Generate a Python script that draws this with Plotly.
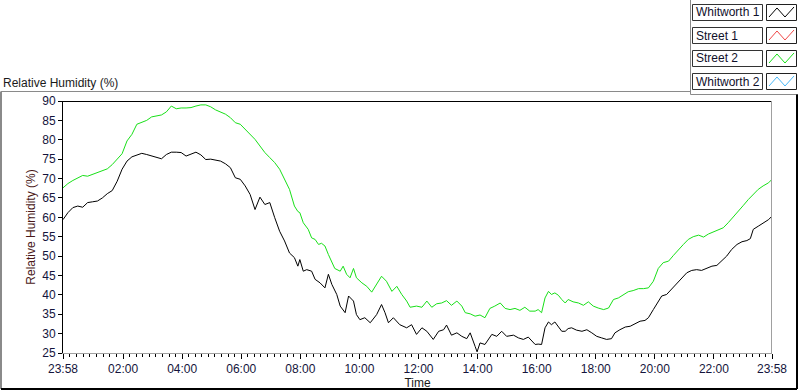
import pandas as pd
import plotly.graph_objects as go

# ---------------- data (minutes after 23:58, relative humidity %) ----------------
whitworth1_min = [0, 10, 20, 30, 40, 50, 60, 70, 80, 90, 100, 110, 120, 130, 140, 150, 160, 170, 180, 190,
                  200, 210, 220, 230, 240, 250, 260, 270, 280, 290, 300, 310, 320, 330, 340, 350, 360, 370,
                  380, 390, 400, 410, 420, 430, 440, 450, 460, 470, 477,
                  481, 488, 495, 505, 512, 522, 532, 539, 546, 556, 563, 573, 580, 590, 596, 603, 613, 624,
                  637, 647, 654, 661, 671, 684, 698, 708, 718, 729, 739, 752, 763, 773, 779, 789, 800, 810,
                  820, 827, 837, 841, 847, 857, 871, 881, 891, 901, 915, 925, 935, 945,
                  959, 965, 972, 979, 986, 992, 999, 1006, 1013, 1020, 1026, 1033, 1043, 1054, 1064, 1074,
                  1084, 1094, 1104, 1114, 1121, 1131, 1142, 1152, 1162, 1172, 1182, 1189, 1199, 1209, 1216,
                  1226, 1236, 1246, 1257, 1267, 1277, 1287, 1297, 1308, 1318, 1328, 1338, 1348, 1358, 1369,
                  1379, 1389, 1396, 1402, 1412, 1422, 1433, 1440]
whitworth1_rh = [59.4, 61.2, 62.5, 62.9, 62.6, 63.8, 64.0, 64.2, 65.0, 66.1, 66.9, 69.3, 72.4, 74.5, 75.6,
                 76.1, 76.5, 76.2, 75.8, 75.4, 75.1, 76.2, 76.8, 76.8, 76.7, 75.8, 76.4, 76.8, 76.1, 74.9,
                 75.0, 74.7, 74.5, 73.8, 72.8, 70.2, 69.8, 68.1, 65.9, 62.0, 65.2, 63.3, 63.8, 59.9, 56.4,
                 53.9, 50.8, 49.6, 47.4,
                 49.1, 46.1, 46.5, 46.1, 44.0, 43.1, 41.8, 45.3, 42.7, 40.1, 37.1, 35.4, 39.7, 38.4, 34.9,
                 33.6, 34.1, 32.8, 34.9, 37.5, 35.4, 32.8, 34.1, 32.3, 31.5, 32.3, 29.8, 31.5, 30.6, 28.5,
                 30.6, 31.0, 32.2, 29.6, 30.2, 29.3, 28.7, 30.2, 26.7, 25.3, 27.6, 27.2, 29.8, 29.3, 30.6,
                 29.3, 29.6, 28.9, 28.5, 29.1,
                 27.2, 27.3, 27.2, 31.5, 33.0, 32.3, 33.0, 31.9, 30.6, 30.6, 31.3, 31.5, 30.9, 30.6, 31.0,
                 30.2, 29.3, 28.9, 28.5, 28.7, 30.2, 31.0, 31.7, 31.9, 32.5, 33.2, 33.4, 34.1, 36.2, 38.4,
                 39.7, 40.1, 41.4, 42.8, 44.4, 45.7, 46.3, 46.5, 46.3, 46.8, 47.4, 47.6, 48.7, 50.0, 51.7,
                 53.0, 53.7, 54.0, 54.5, 56.9, 57.7, 58.6, 59.4, 60.3]

street2_min = [0, 10, 20, 30, 40, 50, 60, 70, 80, 90, 100, 110, 120, 130, 140, 150, 160, 170, 180, 190,
               200, 210, 220, 230, 240, 250, 260, 270, 280, 290, 300, 310, 320, 330, 340, 350, 360, 370,
               380, 390, 400, 410, 420, 430, 440, 450, 460, 470, 477,
               481, 488, 498, 505, 512, 519, 525, 532, 539, 546, 552, 563, 569, 576, 583, 590, 596, 607,
               617, 627, 637, 647, 657, 668, 678, 688, 698, 705, 718, 729, 739, 749, 759, 769, 779, 789,
               800, 810, 817, 827, 837, 847, 857, 867, 877, 888, 898, 908, 918, 928, 938, 948,
               959, 965, 972, 979, 986, 992, 999, 1006, 1013, 1020, 1026, 1036, 1047, 1057, 1067, 1077,
               1087, 1098, 1108, 1118, 1128, 1138, 1148, 1158, 1169, 1179, 1189, 1199, 1209, 1219, 1230,
               1240, 1250, 1260, 1270, 1280, 1291, 1301, 1311, 1321, 1331, 1341, 1351, 1362, 1372, 1382,
               1392, 1402, 1412, 1422, 1433, 1440]
street2_rh = [67.6, 68.7, 69.5, 70.2, 70.8, 70.6, 71.1, 71.6, 71.9, 72.5, 73.6, 74.9, 76.4, 79.7, 81.4,
              84.0, 84.6, 85.0, 85.9, 86.1, 86.4, 87.2, 88.7, 88.0, 88.2, 88.2, 88.3, 88.7, 89.0, 89.0,
              88.5, 87.7, 87.2, 86.6, 85.7, 84.4, 84.0, 82.7, 81.2, 80.1, 78.4, 76.7, 75.4, 74.1, 72.4,
              69.8, 67.2, 62.9, 61.5,
              61.2, 58.6, 56.9, 54.7, 54.3, 53.0, 53.3, 52.6, 50.4, 48.3, 46.8, 46.1, 47.4, 45.3, 44.4,
              46.8, 44.4, 43.1, 42.2, 40.7, 42.7, 44.8, 43.5, 40.9, 42.2, 40.1, 38.4, 36.8, 37.1, 36.8,
              38.4, 36.8, 37.7, 37.9, 38.5, 37.3, 38.4, 37.1, 35.4, 35.1, 34.5, 34.8, 34.1, 36.5, 37.1,
              37.9, 36.5, 36.2, 36.5, 36.0, 36.8, 35.8,
              35.8, 36.2, 35.4, 39.2, 40.9, 40.1, 40.5, 39.9, 38.8, 37.9, 38.8, 38.2, 37.9, 37.3, 38.2,
              37.1, 36.6, 36.2, 36.6, 38.8, 39.2, 39.9, 40.8, 41.1, 41.6, 41.6, 41.8, 43.5, 46.8, 48.3,
              48.7, 50.2, 51.7, 53.0, 54.3, 55.0, 55.4, 54.9, 55.7, 56.2, 56.6, 57.3, 58.6, 60.3, 61.8,
              63.1, 64.6, 65.9, 67.2, 68.1, 68.9, 69.8]

legend_names = ["Whitworth 1", "Street 1", "Street 2", "Whitworth 2"]
legend_colors = ["#000000", "#f04848", "#18e018", "#48b8f8"]

y_ticks = [25, 30, 35, 40, 45, 50, 55, 60, 65, 70, 75, 80, 85, 90]
x_tick_labels = ["23:58", "02:00", "04:00", "06:00", "08:00", "10:00", "12:00",
                 "14:00", "16:00", "18:00", "20:00", "22:00", "23:58"]

# ---------------- build ----------------
base = pd.Timestamp("2000-01-01 23:58")
end = base + pd.Timedelta(minutes=1440)
x_w1 = [base + pd.Timedelta(minutes=m) for m in whitworth1_min]
x_s2 = [base + pd.Timedelta(minutes=m) for m in street2_min]

major = [base] + [pd.Timestamp("2000-01-02") + pd.Timedelta(hours=h) for h in range(2, 24, 2)] + [end]
minor = []
for a, b in zip(major[:-1], major[1:]):
    step = (b - a) / 9
    minor += [a + step * k for k in range(1, 9)]

W, H = 800, 392
L, R, T, B = 63, 772, 101, 353


def px(x):
    return (x - L) / (R - L)


def py(y):
    return (B - y) / (B - T)


fig = go.Figure()
fig.add_trace(go.Scatter(x=x_s2, y=street2_rh, mode="lines", name="Street 2",
                         line=dict(color=legend_colors[2], width=1), showlegend=False))
fig.add_trace(go.Scatter(x=x_w1, y=whitworth1_rh, mode="lines", name="Whitworth 1",
                         line=dict(color=legend_colors[0], width=1), showlegend=False))

FAM = "Liberation Sans, Arial, sans-serif"
font = dict(family=FAM, size=12, color="#14143c")

shapes = []
gray = "#8a8a8a"


def seg(x0, y0, x1, y1, color, width=1):
    shapes.append(dict(type="line", xref="paper", yref="paper", x0=px(x0), y0=py(y0),
                       x1=px(x1), y1=py(y1), line=dict(color=color, width=width), layer="above"))


annotations = []
# custom legend
rows_top = [4, 27, 50, 73]
for name, col, yt in zip(legend_names, legend_colors, rows_top):
    yb = yt + 16
    shapes.append(dict(type="rect", xref="paper", yref="paper", x0=px(692.5), x1=px(762.5),
                       y0=py(yt + 0.5), y1=py(yb + 0.5), line=dict(color="#333333", width=1)))
    shapes.append(dict(type="rect", xref="paper", yref="paper", x0=px(766.5), x1=px(796.5),
                       y0=py(yt + 0.5), y1=py(yb + 0.5), line=dict(color="#202020", width=1)))
    pts = [(769, yt + 13), (777, yt + 4), (785, yt + 13), (794, yt + 3)]
    path = "M " + " L ".join(f"{px(a):.5f},{py(b):.5f}" for a, b in pts)
    shapes.append(dict(type="path", xref="paper", yref="paper", path=path,
                       line=dict(color=col, width=1)))
    annotations.append(dict(x=px(694), y=py(yt + 8.5), xref="paper", yref="paper", text=name,
                            showarrow=False, xanchor="left", yanchor="middle",
                            font=dict(family=FAM, size=12, color="#10102a")))

# outer frame
seg(1, 91.5, 690.5, 91.5, gray)
seg(1, 91.5, 1, 389, gray, 2)
seg(690.5, 0, 690.5, 94.5, gray)
seg(690.5, 94.5, 798, 94.5, gray)
seg(797, 94.5, 797, 389, "#000000", 2)
seg(1, 389, 797, 389, "#000000", 2)
# plot area top/right
seg(L, T + 0.5, R, T + 0.5, "#000000")
seg(R - 0.5, T, R - 0.5, B, "#a0a0a0")

annotations.append(dict(x=px(1), y=py(83), xref="paper", yref="paper", text="Relative Humidity (%)",
                        showarrow=False, xanchor="left", yanchor="middle",
                        font=dict(family=FAM, size=12, color="#1a1a1a")))

fig.update_layout(
    width=W, height=H,
    margin=dict(l=L, r=W - R, t=T, b=H - B, pad=0),
    paper_bgcolor="white", plot_bgcolor="white",
    font=font,
    showlegend=False,
    shapes=shapes,
    annotations=annotations,
    xaxis=dict(type="date", range=[base, end], tickmode="array", tickvals=major, ticktext=x_tick_labels,
               ticks="outside", ticklen=5, tickcolor="#000000", showgrid=False, zeroline=False,
               showline=True, linecolor="#a0a0a0", linewidth=1, tickfont=font, automargin=False,
               minor=dict(tickmode="array", tickvals=minor, ticks="outside", ticklen=3,
                          tickcolor="#000000", showgrid=False),
               title=dict(text="Time", standoff=1, font=dict(family=FAM, size=12, color="#1a1a1a"))),
    yaxis=dict(range=[25, 90], tickmode="array", tickvals=y_ticks, ticks="outside", ticklen=4,
               tickcolor="#000000", showgrid=False, zeroline=False, showline=True, linecolor="#000000",
               linewidth=1, tickfont=font, automargin=False,
               title=dict(text="Relative Humidity (%)", standoff=4,
                          font=dict(family=FAM, size=12, color="#4a1818"))),
)

fig.write_html("out.html", config={"displayModeBar": False},
               post_script="document.body.style.margin='0px';document.body.style.overflow='hidden';")
